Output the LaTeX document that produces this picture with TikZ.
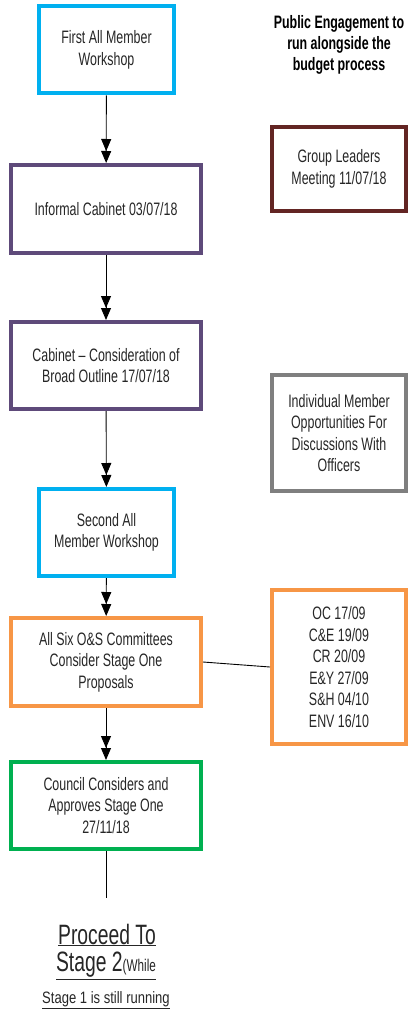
\documentclass[tikz,border=0pt]{standalone}
\usepackage{fontspec}
\setmainfont[FakeStretch=0.69]{Liberation Sans}
\newfontfamily\notefont[FakeStretch=0.79]{Liberation Sans}
\usetikzlibrary{arrows.meta,positioning}
\definecolor{wscyan}{HTML}{00B0F0}
\definecolor{cabpurple}{HTML}{5E4A7A}
\definecolor{glred}{HTML}{632523}
\definecolor{imgray}{HTML}{7F7F7F}
\definecolor{osorange}{HTML}{F79646}
\definecolor{cgreen}{HTML}{00B050}
\colorlet{txt}{black!85}
\tikzset{
  stagebox/.style={draw, line width=4pt, align=center, inner sep=2pt,
    font=\fontsize{18}{21.5}\selectfont},
  flowarrow/.style={line width=0.9pt,
    -{Triangle[width=10pt,length=12pt]Triangle[width=10pt,length=12pt]}},
  plainline/.style={line width=0.9pt},
}
\begin{document}
\begin{tikzpicture}[x=1pt,y=-1pt]
\useasboundingbox (0,0) rectangle (410,1014);

% main flow
\node[stagebox, wscyan, minimum width=135pt, minimum height=87pt] (ws1) at (106.5,50)
  {\color{txt}First All Member\\\color{txt}Workshop};
\node[stagebox, cabpurple, minimum width=190pt, minimum height=88pt] (ic) at (106,209)
  {\color{txt}Informal Cabinet 03/07/18};
\node[stagebox, cabpurple, minimum width=190pt, minimum height=87pt] (cab) at (106,365.5)
  {\color{txt}Cabinet -- Consideration of\\\color{txt}Broad Outline 17/07/18};
\node[stagebox, wscyan, minimum width=135pt, minimum height=87pt] (ws2) at (106.5,532.5)
  {\color{txt}Second All\\\color{txt}Member Workshop};
\node[stagebox, osorange, minimum width=190pt, minimum height=88pt] (os) at (106,662)
  {\color{txt}All Six O\&S Committees\\\color{txt}Consider Stage One\\\color{txt}Proposals};
\node[stagebox, cgreen, minimum width=190pt, minimum height=87pt] (cc) at (106,805.5)
  {\color{txt}Council Considers and\\\color{txt}Approves Stage One\\\color{txt}27/11/18};

% side column
\node[align=center, font=\fontsize{18}{21}\selectfont\bfseries] (pe) at (339,45)
  {Public Engagement to\\run alongside the\\budget process};
\node[stagebox, glred, minimum width=134pt, minimum height=84pt] (gl) at (339,169)
  {\color{txt}Group Leaders\\\color{txt}Meeting 11/07/18};
\node[stagebox, imgray, minimum width=134pt, minimum height=116pt] (im) at (339,433)
  {\color{txt}Individual Member\\\color{txt}Opportunities For\\\color{txt}Discussions With\\\color{txt}Officers};
\node[stagebox, osorange, minimum width=134pt, minimum height=154pt] (oc) at (339,667)
  {\color{txt}OC 17/09\\\color{txt}C\&E 19/09\\\color{txt}CR 20/09\\\color{txt}E\&Y 27/09\\\color{txt}S\&H 04/10\\\color{txt}ENV 16/10};

% connectors
\draw[flowarrow] (ws1) -- (ic);
\draw[flowarrow] (ic) -- (cab);
\draw[flowarrow] (cab) -- (ws2);
\draw[flowarrow] (ws2) -- (os);
\draw[flowarrow] (os) -- (cc);
\draw[plainline] (os.east) -- (oc.west);
\coordinate (tail) at (106,898);
\draw[plainline] (cc.south) -- (tail);

% closing note
\node[font=\fontsize{28}{32}\selectfont, text=txt] (p1) at (107,935) {\underline{Proceed To}};
\node[font=\fontsize{28}{32}\selectfont, text=txt] (p2) at (106,966)
  {\underline{Stage 2{\fontsize{17}{20}\selectfont(While}}};
\node[font=\notefont\fontsize{16.5}{19}\selectfont, text=txt] (p3) at (106,1000) {\underline{Stage 1 is still running}};
\end{tikzpicture}
\end{document}
